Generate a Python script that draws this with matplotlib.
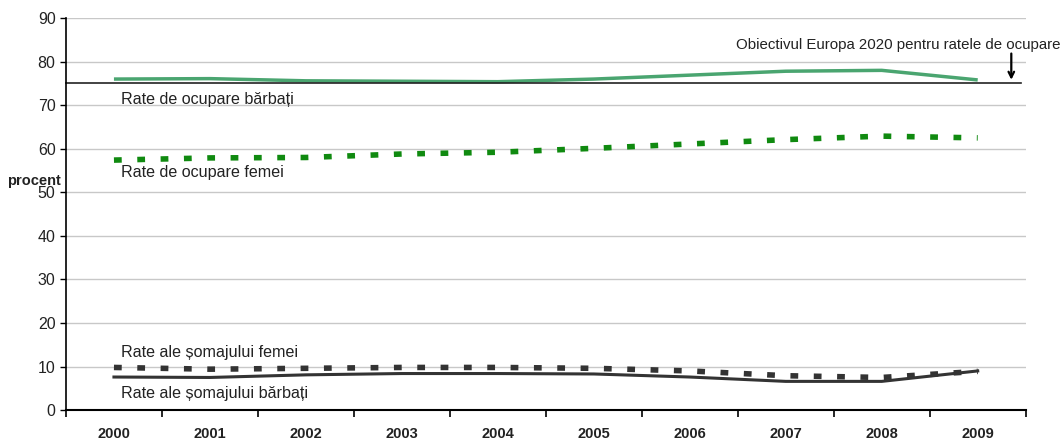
import numpy as np
import matplotlib.pyplot as plt

plt.rcParams['font.family'] = ['Liberation Sans', 'DejaVu Sans']

years = ["2000", "2001", "2002", "2003", "2004", "2005", "2006", "2007", "2008", "2009"]

# rate de ocupare (20-64 ani) si rate ale somajului, procent
ocupare_barbati = [76.0, 76.1, 75.6, 75.5, 75.4, 76.0, 76.9, 77.8, 78.0, 75.8]
ocupare_femei = [57.4, 57.9, 58.0, 58.8, 59.2, 60.1, 61.1, 62.1, 62.9, 62.5]
somaj_femei = [9.8, 9.4, 9.6, 9.8, 9.8, 9.6, 9.0, 7.9, 7.5, 8.9]
somaj_barbati = [7.6, 7.5, 8.1, 8.4, 8.4, 8.3, 7.6, 6.6, 6.6, 9.0]
obiectiv_2020 = 75

x = np.arange(len(years))

fig = plt.figure(figsize=(10.64, 4.41), dpi=100)
ax = fig.add_axes([0.062, 0.07, 0.902, 0.889])

ax.plot(x, ocupare_barbati, color="#4aa570", lw=2.5, solid_capstyle="butt")
ax.plot(x, ocupare_femei, color="#108a10", lw=4, linestyle=(0, (1.4, 2.8)))
ax.plot(x, somaj_barbati, color="#333333", lw=2.2)
ax.plot(x, somaj_femei, color="#333333", lw=4, linestyle=(0, (1.4, 2.8)))

# tinta Europa 2020
ax.plot([-0.5, 9.45], [obiectiv_2020, obiectiv_2020], color="#222222", lw=1.2, clip_on=False)
ax.annotate("", xy=(9.35, obiectiv_2020 + 0.2), xytext=(9.35, obiectiv_2020 + 7.5),
            arrowprops=dict(arrowstyle="->", color="black", lw=1.6))
fig.text(0.997, 0.898, "Obiectivul Europa 2020 pentru ratele de ocupare", ha="right", va="center",
         fontsize=10.8, color="#222222")

lbl = dict(fontsize=11.6, va="center", color="#222222")
ax.text(0.07, 71.4, "Rate de ocupare bărbați", **lbl)
ax.text(0.07, 54.6, "Rate de ocupare femei", **lbl)
ax.text(0.07, 13.3, "Rate ale șomajului femei", **lbl)
ax.text(0.07, 3.9, "Rate ale șomajului bărbați", **lbl)

ax.set_xlim(-0.5, 9.5)
ax.set_ylim(0, 90)
ax.set_yticks(np.arange(0, 91, 10))
ax.set_xticks(np.arange(-0.5, 10, 1))
ax.set_xticklabels([])
ax.set_xticks(x, minor=True)
ax.set_xticklabels(years, minor=True, fontsize=10.5, fontweight="bold", color="#222222")
ax.tick_params(axis="x", which="minor", length=0, pad=12)
ax.tick_params(axis="x", which="major", length=5, width=1.2, direction="out")
ax.tick_params(axis="y", length=4, width=1, labelsize=11.5, labelcolor="#222222")

ax.grid(axis="y", color="#c8c8c8", lw=1)
ax.set_axisbelow(True)
for s in ["top", "right"]:
    ax.spines[s].set_visible(False)
ax.spines["left"].set_linewidth(1.2)
ax.spines["bottom"].set_linewidth(1.5)

fig.text(0.007, 0.59, "procent", fontsize=10.5, fontweight="bold", color="#222222", va="center")

fig.savefig("out.png", dpi=100)
